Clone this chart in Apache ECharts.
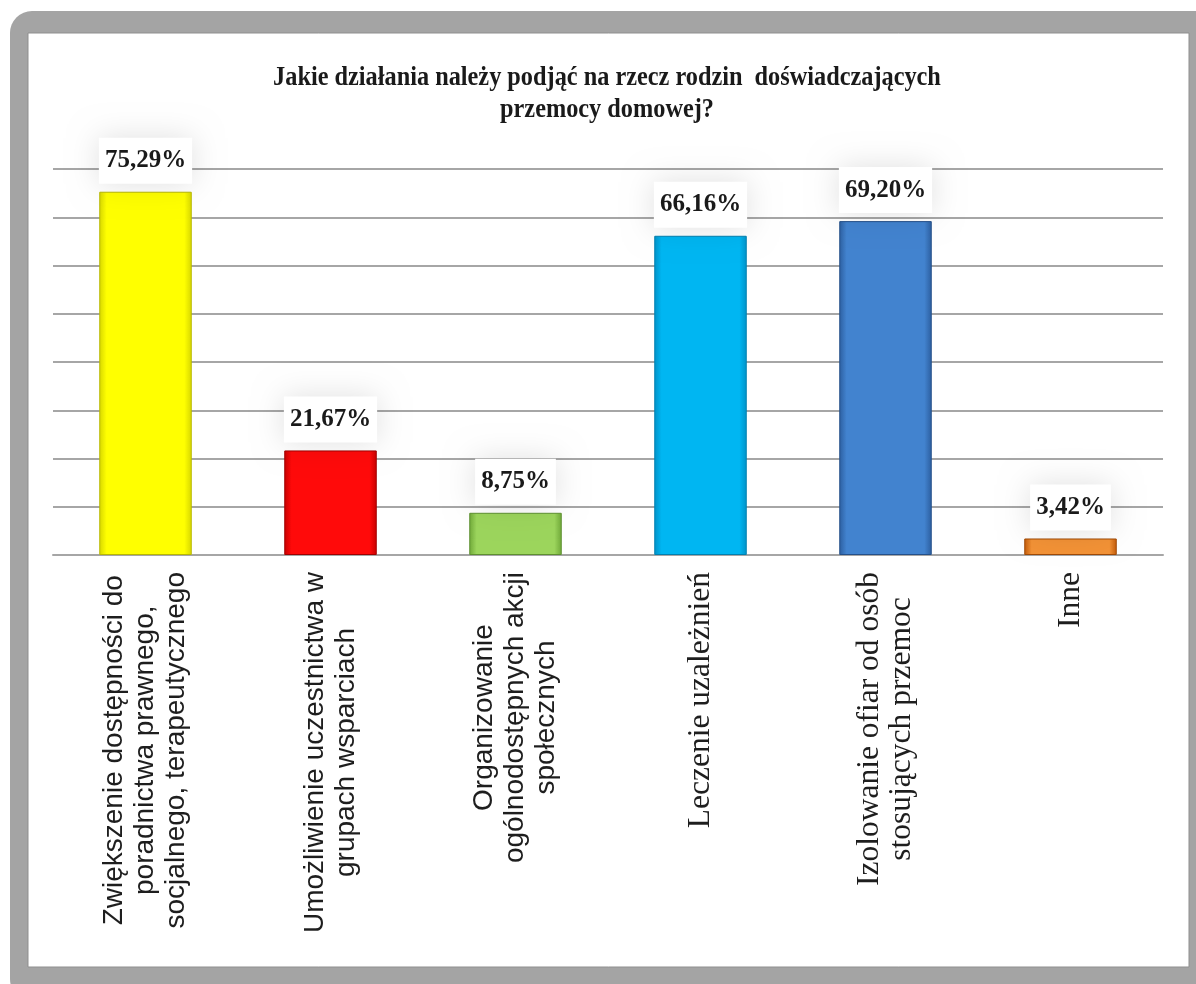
<!DOCTYPE html>
<html>
<head>
<meta charset="utf-8">
<script src="https://cdn.jsdelivr.net/npm/echarts@6/dist/echarts.min.js"></script>
<style>
html,body{margin:0;padding:0;background:#fff;}
#chart{width:1196px;height:984px;}
</style>
</head>
<body>
<div id="chart"></div>
<script>
// ---- data ----
const titleText = 'Jakie działania należy podjąć na rzecz rodzin  doświadczających\nprzemocy domowej?';
const categories = [
  'Zwiększenie dostępności do\nporadnictwa prawnego,\nsocjalnego, terapeutycznego',
  'Umożliwienie uczestnictwa w\ngrupach wsparciach',
  'Organizowanie\nogólnodostępnych akcji\nspołecznych',
  'Leczenie uzależnień',
  'Izolowanie ofiar od osób\nstosujących przemoc',
  'Inne'
];
const values = [75.29, 21.67, 8.75, 66.16, 69.20, 3.42];

// ---- styles ----
const barColors = [
  ['#D6D600', '#FFFF00', '#D6D600', '#B8B800'],
  ['#C80000', '#FF0A0A', '#C80000', '#A00000'],
  ['#6FA838', '#9CD55C', '#6FA838', '#5E9030'],
  ['#0092C8', '#00B6F2', '#0092C8', '#0080B0'],
  ['#2C5E9F', '#4283CF', '#2C5E9F', '#24508A'],
  ['#C25A08', '#F39236', '#C25A08', '#A04A06']
];
const labelFonts = ['s', 's', 's', 't', 't', 't'];

const chart = echarts.init(document.getElementById('chart'), null, {renderer: 'canvas'});

const option = {
  backgroundColor: '#ffffff',
  animation: false,
  graphic: [
    {type: 'rect', z: -100, shape: {x: 10, y: 11, width: 1200, height: 990, r: [22, 0, 0, 22]},
     style: {fill: '#a4a4a4'}},
    {type: 'rect', z: -99, shape: {x: 28, y: 33, width: 1161, height: 934},
     style: {fill: '#ffffff', stroke: '#8f8f8f', lineWidth: 1}},
    {type: 'text', z: 10, x: 607, y: 62, scaleX: 0.9,
     style: {text: titleText, align: 'center', verticalAlign: 'top',
             font: 'bold 27px "Liberation Serif", "Times New Roman", serif',
             lineHeight: 32, fill: '#1a1a1a'}}
  ],
  grid: {left: 53, right: 33, top: 169, bottom: 429, containLabel: false},
  xAxis: {
    type: 'category',
    data: categories,
    axisLine: {show: true, lineStyle: {color: '#a6a6a6', width: 2}},
    axisTick: {show: false},
    axisLabel: {
      interval: 0,
      rotate: 90,
      margin: 17,
      color: '#1e1e1e',
      formatter: function (v, i) {
        const k = labelFonts[i];
        return v.split('\n').map(l => '{' + k + '|' + l + '}').join('\n');
      },
      rich: {
        s: {align: 'center', fontFamily: '"Liberation Sans", Arial, sans-serif', fontSize: 28, lineHeight: 31, color: '#1e1e1e'},
        t: {align: 'center', fontFamily: '"Liberation Serif", "Times New Roman", serif', fontSize: 31.5, lineHeight: 32, color: '#1e1e1e'}
      }
    }
  },
  yAxis: {
    type: 'value',
    min: 0, max: 80, interval: 10,
    axisLabel: {show: false},
    axisLine: {show: false},
    axisTick: {show: false},
    splitLine: {show: true, lineStyle: {color: '#a6a6a6', width: 2}}
  },
  series: [{
    type: 'bar',
    barWidth: '50%',
    data: values.map((v, i) => ({
      value: v,
      itemStyle: {
        color: new echarts.graphic.LinearGradient(0, 0, 1, 0, [
          {offset: 0, color: barColors[i][0]},
          {offset: 0.08, color: barColors[i][1]},
          {offset: 0.92, color: barColors[i][1]},
          {offset: 1, color: barColors[i][2]}
        ]),
        borderColor: barColors[i][3],
        borderWidth: 1
      }
    })),
    label: {
      show: true,
      position: 'top',
      distance: 8,
      formatter: p => p.value.toFixed(2).replace('.', ',') + '%',
      fontFamily: '"Liberation Serif", "Times New Roman", serif',
      fontWeight: 'bold',
      fontSize: 25,
      lineHeight: 28,
      color: '#1a1a1a',
      backgroundColor: '#ffffff',
      padding: [9, 6],
      shadowColor: 'rgba(0,0,0,0.12)',
      shadowBlur: 30
    }
  }]
};
chart.setOption(option);
</script>
</body>
</html>
